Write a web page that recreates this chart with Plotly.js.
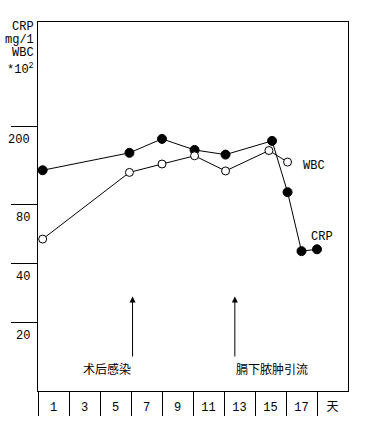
<!DOCTYPE html>
<html><head><meta charset="utf-8">
<script src="https://cdn.plot.ly/plotly-3.0.1.min.js"></script>
<style>html,body{margin:0;padding:0;background:#fff;}#chart{width:379px;height:425px;}</style>
</head><body><div id="chart"></div>
<script>
// CRP (filled) and WBC (open)
var crpDays = [0.3, 5.9, 8.0, 10.1, 12.1, 15.1, 16.1, 17.0, 18.0];
var crpVals = [119, 146, 172, 151, 143, 168, 92, 46, 47];
var wbcDays = [0.3, 5.9, 8.0, 10.1, 12.1, 14.9, 16.1];
var wbcVals = [53, 116, 128, 141, 118, 150, 131];
var yTickVals = [200, 80, 40, 20];
var yTickText = ["200", "80", "40", "20"];
var xLabelVals = [1, 3, 5, 7, 9, 11, 13, 15, 17, 19];
var xLabelText = ["1", "3", "5", "7", "9", "11", "13", "15", "17", "天"];
var xDividers = [0, 2, 4, 6, 8, 10, 12, 14, 16, 18];
var yTitleLines = ["CRP", "mg/1", "WBC", "*10<sup>2</sup>"];
var events = [
  {day: 6.1, text: "术后感染", textDay: 4.45},
  {day: 12.7, text: "膈下脓肿引流", textDay: 15.1}
];

var latin = "Liberation Mono, DejaVu Sans Mono, monospace";
var cjk = "Noto Sans CJK SC, sans-serif";

var traces = [
  {x: crpDays, y: crpVals, type: "scatter", mode: "lines+markers",
   line: {color: "#000", width: 1},
   marker: {symbol: "circle", size: 9, color: "#000", line: {color: "#000", width: 1}},
   hoverinfo: "none", showlegend: false},
  {x: wbcDays, y: wbcVals, type: "scatter", mode: "lines+markers",
   line: {color: "#000", width: 1},
   marker: {symbol: "circle", size: 8, color: "#fff", line: {color: "#000", width: 1}},
   hoverinfo: "none", showlegend: false},
  {x: [0, 20], y: [100, 100], xaxis: "x2", yaxis: "y", type: "scatter", mode: "none",
   hoverinfo: "none", showlegend: false}
];

var ann = [];
yTickVals.forEach(function (v, i) {
  ann.push({xref: "paper", yref: "y", x: 0, y: Math.log10(v), xanchor: "right", yanchor: "middle",
    xshift: -6, yshift: -14, text: yTickText[i], showarrow: false,
    font: {family: latin, size: 12, color: "#000"}});
});
yTitleLines.forEach(function (t, i) {
  ann.push({xref: "paper", yref: "paper", x: 0, y: 1, xanchor: "right", yanchor: "middle",
    xshift: -2, yshift: -5 - 13 * i - (i === 3 ? 3 : 0), text: t, showarrow: false,
    font: {family: latin, size: 12, color: "#000"}});
});
events.forEach(function (e) {
  ann.push({xref: "x", yref: "y", x: e.day, y: Math.log10(27), axref: "x", ayref: "y",
    ax: e.day, ay: Math.log10(13.1), showarrow: true, arrowhead: 2, arrowsize: 1.2,
    arrowwidth: 1, arrowcolor: "#000", text: ""});
  ann.push({xref: "x", yref: "paper", x: e.textDay, y: 0.062, xanchor: "center", yanchor: "middle",
    text: e.text, showarrow: false, font: {family: cjk, size: 12, color: "#000"}});
});
ann.push({xref: "x", yref: "y", x: 17.8, y: Math.log10(125), text: "WBC", showarrow: false,
  font: {family: latin, size: 12, color: "#000"}});
ann.push({xref: "x", yref: "y", x: 18.3, y: Math.log10(54), text: "CRP", showarrow: false,
  font: {family: latin, size: 12, color: "#000"}});

var layout = {
  width: 379, height: 425,
  margin: {l: 38, r: 31, t: 22, b: 34, pad: 0},
  paper_bgcolor: "#fff", plot_bgcolor: "#fff",
  showlegend: false,
  xaxis: {range: [0, 20], tickvals: xLabelVals, ticktext: xLabelText, ticks: "",
    showgrid: false, zeroline: false, showline: true, mirror: true, linecolor: "#000", linewidth: 1,
    tickfont: {family: latin + ", " + cjk, size: 12, color: "#000"}, ticklabelstandoff: 5, fixedrange: true},
  xaxis2: {range: [0, 20], overlaying: "x", side: "bottom", tickvals: xDividers, ticks: "outside",
    ticklen: 24, tickwidth: 1, tickcolor: "#000", showticklabels: false, showgrid: false,
    zeroline: false, showline: false, fixedrange: true},
  yaxis: {type: "log", range: [0.949, 2.832], tickvals: yTickVals, ticks: "outside", ticklen: 26,
    tickwidth: 1, tickcolor: "#000", showticklabels: false, showgrid: false, zeroline: false,
    showline: true, mirror: true, linecolor: "#000", linewidth: 1, fixedrange: true},
  annotations: ann
};
Plotly.newPlot("chart", traces, layout, {displayModeBar: false, staticPlot: true});
</script></body></html>
